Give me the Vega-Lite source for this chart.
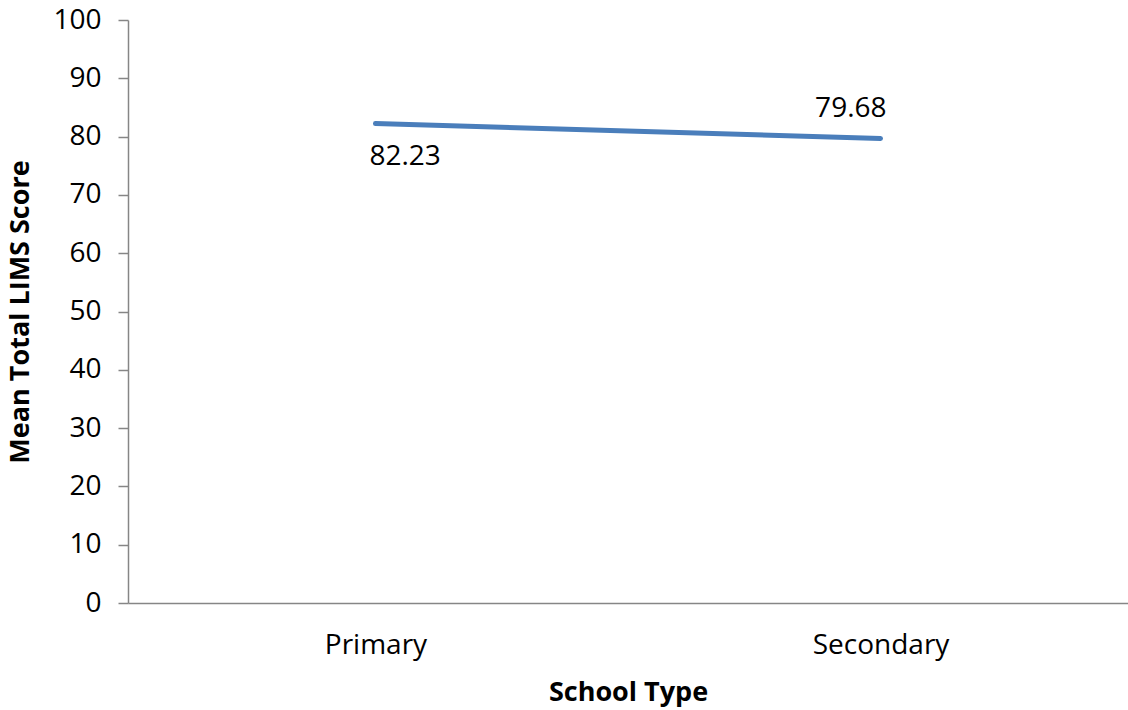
{
  "$schema": "https://vega.github.io/schema/vega-lite/v6.json",
  "width": 1000,
  "height": 583,
  "autosize": {"type": "none"},
  "padding": {"left": 128, "top": 20, "right": 0, "bottom": 107},
  "background": "white",
  "config": {
    "view": {"stroke": null},
    "font": "Open Sans",
    "axis": {"grid": false, "domainColor": "#868686", "domainWidth": 1.5, "tickColor": "#868686", "tickWidth": 1.5, "labelColor": "#000000", "titleColor": "#000000", "labelFont": "Open Sans", "titleFont": "Open Sans", "labelOverlap": false, "labelFlush": false}
  },
  "data": {"values": [
    {"School": "Primary", "Score": 82.23},
    {"School": "Secondary", "Score": 79.68}
  ]},
  "encoding": {
    "x": {"field": "School", "type": "nominal", "sort": ["Primary", "Secondary"], "scale": {"type": "point", "padding": 0.49},
      "axis": {"title": "School Type", "titleFontSize": 27, "titleFontWeight": "bold", "labelFontSize": 28, "labelAngle": 0, "ticks": false, "labelPadding": 28, "titlePadding": 20}},
    "y": {"field": "Score", "type": "quantitative", "scale": {"domain": [0, 100]},
      "axis": {"title": "Mean Total LIMS Score", "titleFontSize": 27, "titleFontWeight": "bold", "labelFontSize": 28, "values": [0,10,20,30,40,50,60,70,80,90,100], "tickSize": 10, "labelPadding": 17, "titlePadding": 18}}
  },
  "layer": [
    {"mark": {"type": "line", "color": "#4A7EBB", "strokeWidth": 5, "strokeCap": "round"}},
    {"transform": [{"filter": "datum.School === 'Primary'"}],
     "mark": {"type": "text", "align": "left", "baseline": "alphabetic", "dx": -6, "dy": 41, "fontSize": 28, "color": "#000000"},
     "encoding": {"text": {"field": "Score", "type": "quantitative", "format": ".2f"}}},
    {"transform": [{"filter": "datum.School === 'Secondary'"}],
     "mark": {"type": "text", "align": "right", "baseline": "alphabetic", "dx": 6, "dy": -21, "fontSize": 28, "color": "#000000"},
     "encoding": {"text": {"field": "Score", "type": "quantitative", "format": ".2f"}}}
  ]
}
